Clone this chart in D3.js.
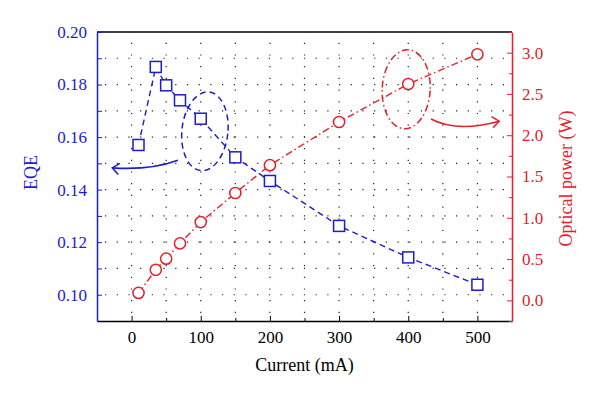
<!DOCTYPE html>
<html>
<head>
<meta charset="utf-8">
<script src="https://cdn.jsdelivr.net/npm/d3@7"></script>
<style>
  body { margin: 0; background: #fff; }
  text { font-family: "Liberation Serif", "DejaVu Serif", serif; }
</style>
</head>
<body>
<div id="chart"></div>
<script>
// data
var current = [10, 35, 50, 70, 100, 150, 200, 300, 400, 500];
var eqe = [0.157, 0.1867, 0.1797, 0.174, 0.167, 0.1523, 0.1433, 0.1262, 0.1142, 0.1038];
var power = [0.09, 0.37, 0.505, 0.69, 0.948, 1.30, 1.637, 2.16, 2.62, 2.98];
var xTicks = [0, 100, 200, 300, 400, 500];
var eqeTicks = [0.10, 0.12, 0.14, 0.16, 0.18, 0.20];
var powerTicks = [0, 0.5, 1, 1.5, 2, 2.5, 3];

var W = 600, H = 399;
var m = {top: 32, right: 88, bottom: 78, left: 97};
var blue = "#1c1cd0", red = "#e5202a";

var svg = d3.select("#chart").append("svg")
    .attr("width", W).attr("height", H);

var x = d3.scaleLinear().domain([-50, 550]).range([m.left, W - m.right]);
var yL = d3.scaleLinear().domain([0.09, 0.20]).range([H - m.bottom, m.top]);
var yR = d3.scaleLinear().domain([-0.25, 3.25]).range([H - m.bottom, m.top]);

// dotted grid
var grid = svg.append("g").attr("stroke", "#222").attr("stroke-width", 1.2)
    .attr("stroke-dasharray", "1.2,10.5");
grid.selectAll("line.v").data(d3.range(0, 501, 50)).enter().append("line")
    .attr("x1", function (d) { return x(d); }).attr("x2", function (d) { return x(d); })
    .attr("y1", H - m.bottom - 8).attr("y2", m.top);
grid.selectAll("line.h").data(d3.range(0.10, 0.195, 0.01)).enter().append("line")
    .attr("y1", function (d) { return yL(d); }).attr("y2", function (d) { return yL(d); })
    .attr("x1", m.left + 8).attr("x2", W - m.right);

// frame top
svg.append("line").attr("x1", m.left).attr("x2", W - m.right)
    .attr("y1", m.top).attr("y2", m.top).attr("stroke", "#000").attr("stroke-width", 1.5);

// bottom axis
var xAxis = svg.append("g").attr("transform", "translate(0," + (H - m.bottom) + ")");
xAxis.call(d3.axisBottom(x).tickValues(d3.range(0, 501, 50)).tickSizeInner(-5).tickSizeOuter(0)
    .tickFormat(function (d) { return xTicks.indexOf(d) >= 0 ? d : ""; }));
xAxis.select(".domain").attr("stroke", "#000").attr("stroke-width", 1.5);
xAxis.selectAll(".tick line").attr("stroke", "#000");
xAxis.selectAll(".tick line").filter(function (d) { return xTicks.indexOf(d) < 0; }).attr("y2", -3);
xAxis.selectAll("text").attr("font-size", 17).attr("fill", "#000").attr("dy", "1.1em")
    .style("font-family", "Liberation Serif");

// left axis
var lAxis = svg.append("g").attr("transform", "translate(" + m.left + ",0)");
lAxis.call(d3.axisLeft(yL).tickValues(d3.range(0.10, 0.2001, 0.01)).tickSizeInner(-5).tickSizeOuter(0).tickPadding(10)
    .tickFormat(function (d) { return Math.round(d * 100) % 2 === 0 ? d3.format(".2f")(d) : ""; }));
lAxis.select(".domain").attr("stroke", blue).attr("stroke-width", 1.5);
lAxis.selectAll(".tick line").attr("stroke", blue);
lAxis.selectAll("text").attr("font-size", 17).attr("fill", blue).style("font-family", "Liberation Serif");

// right axis
var rAxis = svg.append("g").attr("transform", "translate(" + (W - m.right) + ",0)");
rAxis.call(d3.axisRight(yR).tickValues(d3.range(-0.25, 3.26, 0.25)).tickSizeInner(-5).tickSizeOuter(0).tickPadding(10)
    .tickFormat(function (d) { return powerTicks.indexOf(d) >= 0 ? d3.format(".1f")(d) : ""; }));
rAxis.select(".domain").attr("stroke", red).attr("stroke-width", 1.5);
rAxis.selectAll(".tick line").attr("stroke", red);
rAxis.selectAll(".tick line").filter(function (d) { return powerTicks.indexOf(d) < 0; }).attr("x2", -3);
rAxis.selectAll("text").attr("font-size", 17).attr("fill", red).style("font-family", "Liberation Serif");

// axis titles
svg.append("text").attr("x", (m.left + W - m.right) / 2).attr("y", 371)
    .attr("text-anchor", "middle").attr("font-size", 18).text("Current (mA)");
svg.append("text").attr("transform", "translate(37," + ((m.top + H - m.bottom) / 2 - 4) + ")rotate(-90)")
    .attr("text-anchor", "middle").attr("font-size", 18).attr("fill", blue).text("EQE");
svg.append("text").attr("transform", "translate(572," + ((m.top + H - m.bottom) / 2 + 2) + ")rotate(-90)")
    .attr("text-anchor", "middle").attr("font-size", 18).attr("fill", red).text("Optical power (W)");

// series lines
var eqeLine = d3.line().x(function (d, i) { return x(current[i]); }).y(function (d) { return yL(d); });
var powLine = d3.line().x(function (d, i) { return x(current[i]); }).y(function (d) { return yR(d); });

svg.append("path").attr("d", powLine(power)).attr("fill", "none").attr("stroke", red)
    .attr("stroke-width", 1.4).attr("stroke-dasharray", "7,3,1.5,3");
svg.append("path").attr("d", eqeLine(eqe)).attr("fill", "none").attr("stroke", blue)
    .attr("stroke-width", 1.4).attr("stroke-dasharray", "6,4");

// markers
svg.selectAll("circle.p").data(power).enter().append("circle")
    .attr("cx", function (d, i) { return x(current[i]); })
    .attr("cy", function (d) { return yR(d); })
    .attr("r", 5.6).attr("fill", "#fff").attr("stroke", red).attr("stroke-width", 1.5);
svg.selectAll("rect.e").data(eqe).enter().append("rect")
    .attr("x", function (d, i) { return x(current[i]) - 5.5; })
    .attr("y", function (d) { return yL(d) - 5.5; })
    .attr("width", 11).attr("height", 11).attr("fill", "#fff").attr("stroke", blue).attr("stroke-width", 1.5);

// annotations: ellipses + arrows
function arrowHead(g, px, py, ang, col) {
    var a = 9, s = 0.68;
    g.append("path")
        .attr("d", "M" + (px + a * Math.cos(ang + s)) + "," + (py + a * Math.sin(ang + s)) +
            "L" + px + "," + py +
            "L" + (px + a * Math.cos(ang - s)) + "," + (py + a * Math.sin(ang - s)))
        .attr("fill", "none").attr("stroke", col).attr("stroke-width", 1.5);
}

var ann = svg.append("g");
var bx = x(106), by = yL(0.1622);
ann.append("ellipse").attr("cx", bx).attr("cy", by).attr("rx", 23).attr("ry", 39.5)
    .attr("transform", "rotate(6," + bx + "," + by + ")")
    .attr("fill", "none").attr("stroke", blue).attr("stroke-width", 1.5).attr("stroke-dasharray", "6,4");
var b0 = [x(67), yL(0.1512)], b1 = [x(-28), yL(0.1483)];
ann.append("path").attr("d", "M" + b0 + "Q" + [x(27), yL(0.1473)] + " " + b1)
    .attr("fill", "none").attr("stroke", blue).attr("stroke-width", 1.6);
arrowHead(ann, b1[0], b1[1], 0.15, blue);

var rx0 = x(397), ry0 = yR(2.557);
ann.append("ellipse").attr("cx", rx0).attr("cy", ry0).attr("rx", 24).attr("ry", 39.5)
    .attr("transform", "rotate(3," + rx0 + "," + ry0 + ")")
    .attr("fill", "none").attr("stroke", red).attr("stroke-width", 1.5).attr("stroke-dasharray", "7,3,1.5,3");
var r0 = [x(433), yR(2.197)], r1 = [x(531.5), yR(2.17)];
ann.append("path").attr("d", "M" + r0 + "Q" + [x(470), yR(2.03)] + " " + r1)
    .attr("fill", "none").attr("stroke", red).attr("stroke-width", 1.6);
arrowHead(ann, r1[0], r1[1], Math.PI - 0.15, red);
</script>
</body>
</html>
